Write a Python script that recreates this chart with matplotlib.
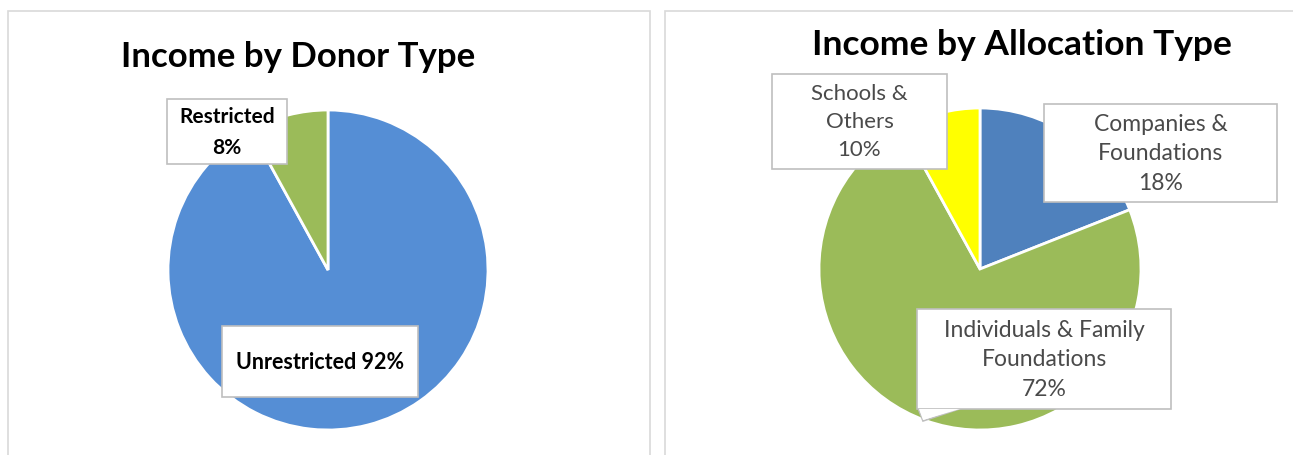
import matplotlib
matplotlib.use("Agg")
import matplotlib.pyplot as plt
from matplotlib.patches import Rectangle, Polygon

W, H = 1293, 456

# ---- data ----
donor_labels = ["Unrestricted", "Restricted"]
donor_values = [92, 8]
donor_pct_text = ["92%", "8%"]
donor_colors = ["#558ED5", "#9BBB59"]

alloc_labels = ["Companies &\nFoundations", "Individuals & Family\nFoundations", "Schools &\nOthers"]
alloc_values = [19, 73, 8]          # slice sizes as drawn in the picture
alloc_pct_text = ["18%", "72%", "10%"]  # percentages as printed on the labels
alloc_colors = ["#4F81BD", "#9BBB59", "#FFFF00"]

titles = ["Income by Donor Type", "Income by Allocation Type"]

FONT = "Lato"

fig = plt.figure(figsize=(W / 100, H / 100), dpi=100)
fig.patch.set_facecolor("white")


def fx(x):
    return x / W


def fy(y):
    return 1 - y / H


def rect_px(x0, y0, x1, y1, **kw):
    r = Rectangle((fx(x0), fy(y1)), fx(x1) - fx(x0), fy(y0) - fy(y1),
                  transform=fig.transFigure, **kw)
    fig.add_artist(r)
    return r


# panel borders
rect_px(8, 12, 650, 470, fill=False, edgecolor="#D9D9D9", linewidth=1.2)
rect_px(665, 12, 1300, 470, fill=False, edgecolor="#D9D9D9", linewidth=1.2)


def pie_axes(cx, cy, r):
    ax = fig.add_axes([fx(cx - r), fy(cy + r), fx(2 * r), (2 * r) / H])
    ax.axis("off")
    return ax


def finish(ax):
    ax.set_xlim(-1, 1)
    ax.set_ylim(-1, 1)
    ax.set_aspect("equal", adjustable="box")
    ax.axis("off")


ax1 = pie_axes(328, 271, 160)
ax1.pie(donor_values, colors=donor_colors, startangle=90, counterclock=False,
        radius=1, wedgeprops=dict(edgecolor="white", linewidth=2))
finish(ax1)

ax2 = pie_axes(980, 270, 161)
ax2.pie(alloc_values, colors=alloc_colors, startangle=90, counterclock=False,
        radius=1, wedgeprops=dict(edgecolor="white", linewidth=2))
finish(ax2)

# titles
fig.text(fx(298), fy(57), titles[0], ha="center", va="center", fontsize=25,
         fontweight="bold", family=FONT, color="black")
fig.text(fx(1022), fy(45), titles[1], ha="center", va="center", fontsize=25.5,
         fontweight="bold", family=FONT, color="black")


def label_box(x0, y0, x1, y1, text, bold=False, color="#4A4A4A", size=13, ls=1.3):
    rect_px(x0, y0, x1, y1, facecolor="white", edgecolor="#BFBFBF", linewidth=1.2,
            zorder=5)
    fig.text(fx((x0 + x1) / 2), fy((y0 + y1) / 2), text, ha="center", va="center",
             fontsize=size, fontweight="bold" if bold else "normal", family=FONT,
             color=color, linespacing=ls, zorder=6)


# left labels
label_box(167, 100, 287, 165, f"{donor_labels[1]}\n{donor_pct_text[1]}", bold=True,
          color="black", size=15, ls=1.65)
label_box(222, 327, 418, 398, f"{donor_labels[0]} {donor_pct_text[0]}", bold=True,
          color="black", size=15.5)

# right labels: callout tail for Individuals
tail = Polygon([(fx(918), fy(409)), (fx(923), fy(422)), (fx(962), fy(409))],
               closed=False, transform=fig.transFigure, facecolor="white",
               edgecolor="#BFBFBF", linewidth=1.2, zorder=5)
fig.add_artist(tail)
label_box(772, 75, 947, 170, f"{alloc_labels[2]}\n{alloc_pct_text[2]}", size=16, ls=1.5)
label_box(1044, 105, 1277, 203, f"{alloc_labels[0]}\n{alloc_pct_text[0]}", size=16.5, ls=1.5)
label_box(917, 310, 1171, 410, f"{alloc_labels[1]}\n{alloc_pct_text[1]}", size=16.5, ls=1.5)
tail2 = Polygon([(fx(919), fy(410)), (fx(923), fy(421)), (fx(960), fy(410))],
                closed=True, transform=fig.transFigure, facecolor="white",
                edgecolor="none", zorder=6)
fig.add_artist(tail2)

fig.savefig("out.png", dpi=100)
